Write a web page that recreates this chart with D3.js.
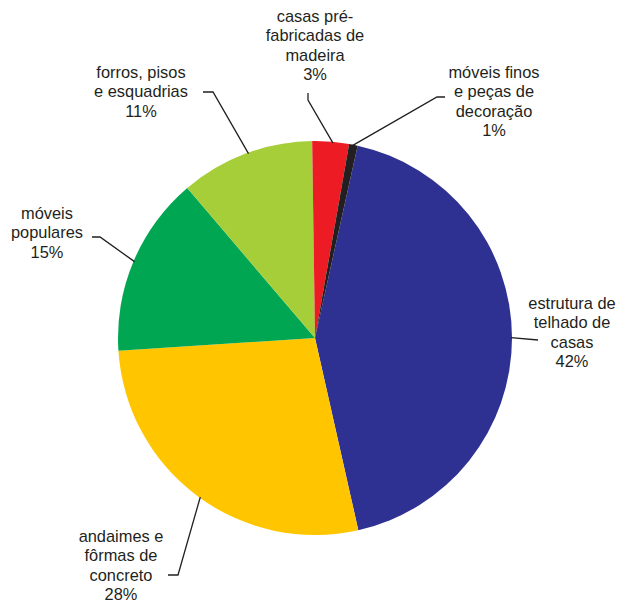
<!DOCTYPE html>
<html>
<head>
<meta charset="utf-8">
<script src="https://cdn.jsdelivr.net/npm/d3@7"></script>
<style>
  body { margin: 0; background: #fff; }
  text { font-family: "Liberation Sans", Arial, sans-serif; font-size: 16.4px; fill: #231f20; }
</style>
</head>
<body>
<svg id="chart" width="625" height="603"></svg>
<script>
// data (slice sizes; printed labels are rounded)
var categories = [
    "estrutura de telhado de casas",
    "andaimes e fôrmas de concreto",
    "móveis populares",
    "forros, pisos e esquadrias",
    "casas pré-fabricadas de madeira",
    "móveis finos e peças de decoração"
];
var values = [43.0, 27.5, 14.8, 11.0, 3.0, 0.7];
var percentLabels = ["42%", "28%", "15%", "11%", "3%", "1%"];
var colors = ["#2e3192", "#ffc600", "#00a651", "#a6ce39", "#ed1c24", "#231f20"];

// label layout: wrapped name lines, centre x, first baseline y, leader path, spot on slice
var labelLines = [
    ["estrutura de", "telhado de", "casas"],
    ["andaimes e", "fôrmas de", "concreto"],
    ["móveis", "populares"],
    ["forros, pisos", "e esquadrias"],
    ["casas pré-", "fabricadas de", "madeira"],
    ["móveis finos", "e peças de", "decoração"]
];
var labelPos = [[572, 309], [121, 542], [47, 219], [141, 78], [315, 22], [494, 78]];
var leaderStart = [[538, 340], [168, 575], [92, 237], [203, 92], [308, 93], [445, 97]];
var leaderElbow = [null, [178, 575], [100, 237], [213, 92], [308, 100], [437, 97]];
var anchorFrac = [0.5, 0.49, 0.5, 0.52, 0.56, 0.4];

var cx = 315, cy = 338, radius = 197;
var startDeg = 12.5;
var svg = d3.select("#chart");

var pie = d3.pie()
    .sort(null)
    .value(function (d) { return d; })
    .startAngle(startDeg * Math.PI / 180)
    .endAngle(startDeg * Math.PI / 180 + 2 * Math.PI);

var arcs = pie(values);

var arc = d3.arc()
    .innerRadius(0)
    .outerRadius(radius);

var g = svg.append("g")
    .attr("transform", "translate(" + cx + "," + cy + ")");

g.selectAll("path")
    .data(arcs)
    .enter()
    .append("path")
    .attr("d", arc)
    .attr("fill", function (d, i) { return colors[i]; });

// leader lines
arcs.forEach(function (d, i) {
    var a = d.startAngle + anchorFrac[i] * (d.endAngle - d.startAngle);
    var px = cx + (radius - 1) * Math.sin(a);
    var py = cy - (radius - 1) * Math.cos(a);
    var pts = [leaderStart[i]];
    if (leaderElbow[i]) pts.push(leaderElbow[i]);
    pts.push([px, py]);
    svg.append("path")
        .attr("d", d3.line()(pts))
        .attr("fill", "none")
        .attr("stroke", "#231f20")
        .attr("stroke-width", 1.3);
});

// labels
labelLines.forEach(function (lines, i) {
    var t = svg.append("text")
        .attr("text-anchor", "middle")
        .attr("x", labelPos[i][0])
        .attr("y", labelPos[i][1]);
    lines.concat([percentLabels[i]]).forEach(function (s, j) {
        t.append("tspan")
            .attr("x", labelPos[i][0])
            .attr("dy", j === 0 ? 0 : 19.3)
            .text(s);
    });
});
</script>
</body>
</html>
